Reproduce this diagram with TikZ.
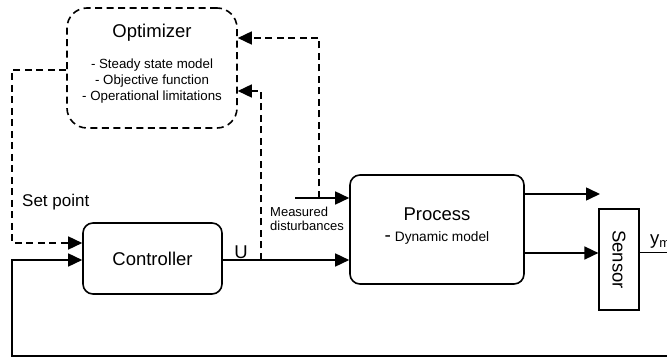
\documentclass[tikz,border=0pt]{standalone}
\usepackage{fontspec}
\setmainfont{Liberation Sans}
\usetikzlibrary{arrows.meta}
\begin{document}
\begin{tikzpicture}[x=1pt,y=-1pt,
  line/.style={line width=1.6pt},
  dsh/.style={line width=1.6pt, dash pattern=on 7pt off 4.5pt},
  arr/.style={-{Triangle[length=14pt,width=13pt]}},
  box/.style={draw, line width=1.6pt, rounded corners=10pt, inner sep=0pt},
  big/.style={inner sep=0pt, font=\fontsize{18.5}{22}\selectfont},
  small/.style={inner sep=0pt, font=\fontsize{13.3}{16}\selectfont}]
\useasboundingbox (0,0) rectangle (667,358);
% boxes
\node[box, dsh, rounded corners=20pt, minimum width=170pt, minimum height=120pt] (opt) at (152,68) {};
\node[big] (optT) at (152,33) {Optimizer};
\node[small, align=center] (optB) at (152,81) {- Steady state model\\- Objective function\\- Operational limitations};
\node[box, big, minimum width=139pt, minimum height=71pt] (ctrl) at (152.5,258.5) {Controller};
\node[box, minimum width=174pt, minimum height=109pt] (proc) at (437,229.5) {};
\node[big] (procT) at (437,214) {Process};
\node[small, font=\fontsize{13.7}{16}\selectfont] (procB) at (437,238) {{\fontsize{19}{20}\selectfont -} Dynamic model};
\node[draw, line width=1.2pt, inner sep=0pt, minimum width=40pt, minimum height=101pt] (sens) at (619,259.5) {};
\node[big, rotate=-90] (sensT) at (619,259.5) {Sensor};
% labels
\node[big, anchor=west, font=\fontsize{17}{20}\selectfont] (spT) at (22,202) {Set point};
\node[big] (uT) at (241,252) {U};
\node[small, anchor=west, align=left, font=\fontsize{13}{14}\selectfont] (mdT) at (270,219) {Measured\\disturbances};
\node[big, anchor=west] (ymT) at (650,242) {y\textsubscript{m}};
% coordinates
\coordinate (a1) at (12,70);
\coordinate (a2) at (12,243);
\coordinate (fb1) at (12,260);
\coordinate (fb2) at (12,356);
\coordinate (fb3) at (667,356);
\coordinate (u1) at (261,260);
\coordinate (u2) at (261,91);
\coordinate (md0) at (295,198);
\coordinate (md1) at (319,198);
\coordinate (md2) at (319,38);
\coordinate (po1) at (600,194);
\coordinate (s2) at (600,253);
\coordinate (ym) at (667,253);
% connectors
\draw[dsh, arr] (opt.west |- a1) -- (a1) -- (a2) -- (ctrl.west |- a2);
\draw[line, arr] (fb3) -- (fb2) -- (fb1) -- (ctrl.west |- fb1);
\draw[line, arr] (ctrl.east |- fb1) -- (proc.west |- fb1);
\draw[dsh, arr] (u1) -- (u2) -- (opt.east |- u2);
\draw[line, arr] (md0) -- (proc.west |- md0);
\draw[dsh, arr] (md1) -- (md2) -- (opt.east |- md2);
\draw[line, arr] (proc.east |- po1) -- (po1);
\draw[line, arr] (proc.east |- s2) -- (sens.west |- s2);
\draw[line width=1pt] (sens.east |- ym) -- (ym);
\end{tikzpicture}
\end{document}
